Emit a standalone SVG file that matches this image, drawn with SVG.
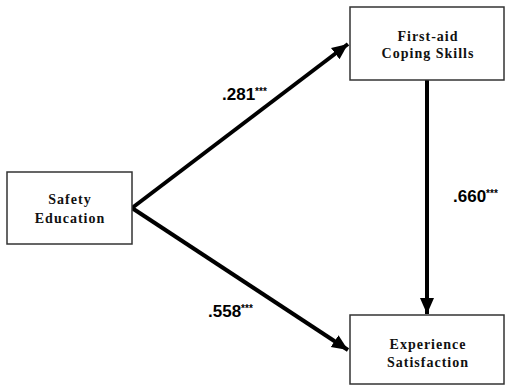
<svg xmlns="http://www.w3.org/2000/svg" width="506" height="387" viewBox="0 0 506 387">
<style>
.box{fill:#fff;stroke:#333;stroke-width:1.5}
.nt{font-family:"Liberation Serif",serif;font-weight:bold;font-size:14px;letter-spacing:1px;fill:#111;text-anchor:middle}
.lbl{font-family:"Liberation Sans",sans-serif;font-weight:bold;font-size:17px;fill:#000}
.sup{font-size:10px}
.conn{stroke:#000;stroke-width:4;fill:none}
</style>
<defs>
<marker id="ah" markerUnits="userSpaceOnUse" markerWidth="18" markerHeight="16" refX="16" refY="8" orient="auto">
<path d="M0,1 L16,8 L0,15 Z" fill="#000"/>
</marker>
</defs>
<rect width="506" height="387" fill="#fff"/>
<g id="connectors">
<line class="conn" x1="132" y1="208" x2="348" y2="44" marker-end="url(#ah)"/>
<line class="conn" x1="132" y1="208" x2="348" y2="350" marker-end="url(#ah)"/>
<line class="conn" x1="427" y1="80" x2="427" y2="314" marker-end="url(#ah)"/>
<text class="lbl" x="222" y="100">.281<tspan class="sup" dy="-5">***</tspan></text>
<text class="lbl" x="208" y="317">.558<tspan class="sup" dy="-5">***</tspan></text>
<text class="lbl" x="453" y="202">.660<tspan class="sup" dy="-5">***</tspan></text>
</g>
<g id="first-aid">
<rect class="box" x="350" y="7" width="154" height="73"/>
<text class="nt" x="428" y="41">First-aid</text>
<text class="nt" x="428" y="58">Coping Skills</text>
</g>
<g id="safety">
<rect class="box" x="7" y="172" width="125" height="72"/>
<text class="nt" x="70" y="204">Safety</text>
<text class="nt" x="70" y="223">Education</text>
</g>
<g id="experience">
<rect class="box" x="350" y="315" width="154" height="69"/>
<text class="nt" x="428" y="349">Experience</text>
<text class="nt" x="428" y="367">Satisfaction</text>
</g>
</svg>
